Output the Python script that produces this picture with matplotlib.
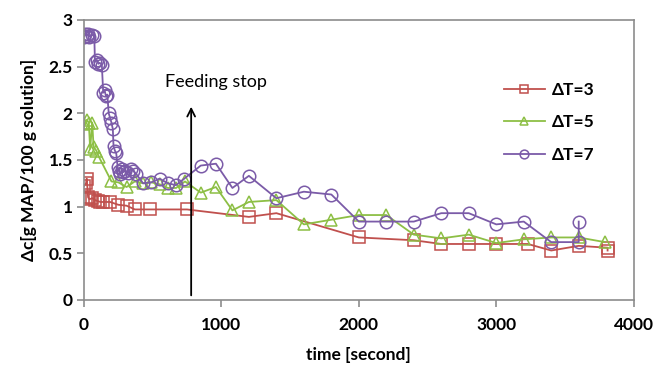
import matplotlib
matplotlib.use("Agg")
import matplotlib.pyplot as plt

plt.rcParams["font.family"] = ["Lato", "DejaVu Sans"]

# dT = 3
t3 = [0, 15, 20, 30, 40, 60, 80, 100, 120, 140, 190, 250, 310, 370, 480, 750,
      1200, 1400, 2000, 2400, 2600, 2800, 3000, 3230, 3400, 3600, 3810, 3810]
c3 = [1.22, 1.25, 1.3, 1.1, 1.08, 1.09, 1.07, 1.06, 1.05, 1.05, 1.05, 1.02, 1.01,
      0.97, 0.97, 0.97, 0.89, 0.93, 0.67, 0.64, 0.6, 0.6, 0.6, 0.6, 0.53, 0.58,
      0.56, 0.53]

# dT = 5
t5 = [0, 20, 35, 45, 60, 70, 90, 110, 200, 250, 310, 370, 430, 490, 550, 610, 670,
      735, 850, 960, 1080, 1200, 1400, 1600, 1800, 2000, 2200, 2400, 2600, 2800,
      3000, 3200, 3400, 3600, 3790]
c5 = [1.88, 1.93, 1.9, 1.62, 1.9, 1.64, 1.6, 1.53, 1.27, 1.26, 1.21, 1.27, 1.25,
      1.26, 1.24, 1.2, 1.2, 1.27, 1.15, 1.21, 0.96, 1.05, 1.07, 0.81, 0.86, 0.91,
      0.91, 0.7, 0.66, 0.7, 0.61, 0.65, 0.67, 0.67, 0.62]

# dT = 7
t7 = [0, 10, 20, 30, 40, 60, 75, 80, 95, 105, 115, 130, 140, 150, 160, 170, 180,
      190, 200, 210, 215, 225, 235, 245, 255, 265, 275, 285, 300, 320, 340, 360,
      380, 430, 490, 550, 610, 670, 730, 850, 960, 1080, 1200, 1400, 1600, 1800,
      2000, 2200, 2400, 2600, 2800, 3000, 3200, 3400, 3600, 3600]
c7 = [2.82, 2.85, 2.83, 2.85, 2.82, 2.84, 2.83, 2.55, 2.57, 2.53, 2.54, 2.52, 2.22,
      2.25, 2.18, 2.2, 2.0, 1.95, 1.9, 1.83, 1.65, 1.6, 1.57, 1.42, 1.38, 1.35,
      1.4, 1.37, 1.38, 1.36, 1.4, 1.38, 1.35, 1.25, 1.26, 1.3, 1.25, 1.23, 1.3,
      1.44, 1.46, 1.2, 1.33, 1.09, 1.16, 1.13, 0.84, 0.84, 0.84, 0.93, 0.93, 0.81,
      0.84, 0.62, 0.62, 0.84]

labels = ["\u0394T=3", "\u0394T=5", "\u0394T=7"]
feed_stop = 780

fig = plt.figure(figsize=(6.56, 3.69), dpi=100)
ax = fig.add_axes([0.128, 0.187, 0.838, 0.759])

ax.plot(t3, c3, color="#C0504D", marker="s", ms=8, mfc="none", mew=1.1, lw=1.3,
        label=labels[0])
ax.plot(t5, c5, color="#8DBF45", marker="^", ms=8, mfc="none", mew=1.1, lw=1.3,
        label=labels[1])
ax.plot(t7, c7, color="#7B5BA8", marker="o", ms=9, mfc="none", mew=1.1, lw=1.3,
        label=labels[2])

ax.annotate("", xy=(feed_stop, 2.1), xytext=(feed_stop, 0.02),
            arrowprops=dict(arrowstyle="->", color="black", lw=1.3,
                            mutation_scale=14))
ax.text(590, 2.34, "Feeding stop", fontsize=13, ha="left", va="center")

ax.set_xlim(0, 4000)
ax.set_ylim(0, 3)
ax.set_xticks([0, 1000, 2000, 3000, 4000])
ax.set_yticks([0, 0.5, 1, 1.5, 2, 2.5, 3])
ax.set_yticklabels(["0", "0.5", "1", "1.5", "2", "2.5", "3"])
for s in ax.spines.values():
    s.set_color("#8c8c8c")
    s.set_linewidth(1.2)
ax.tick_params(direction="out", length=5, color="#8c8c8c", width=1.2,
               labelsize=12.5, pad=3)
for lab in ax.get_xticklabels() + ax.get_yticklabels():
    lab.set_fontweight("bold")
ax.xaxis.set_tick_params(pad=7)

ax.set_xlabel("time [second]", fontsize=12.5, fontweight="bold", labelpad=10)
ax.set_ylabel("\u0394c[g MAP/100 g solution]", fontsize=12.5, fontweight="bold",
              labelpad=8)

leg = ax.legend(loc="upper left", bbox_to_anchor=(0.735, 0.835), frameon=False,
                fontsize=12.5, labelspacing=0.95, handlelength=2.4,
                handletextpad=0.4, markerscale=0.7)
for txt in leg.get_texts():
    txt.set_fontweight("bold")

fig.savefig("out.png", dpi=100)
